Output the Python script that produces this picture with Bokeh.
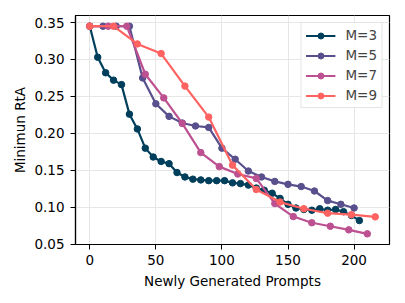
from bokeh.plotting import figure
from bokeh.models import Legend, LegendItem, FixedTicker, PrintfTickFormatter, Range1d
from bokeh.embed import file_html
from bokeh.resources import INLINE

x_m3 = [0, 6, 12, 18, 24, 30, 36, 42, 48, 54, 60, 66, 72, 78, 84, 90, 96, 102, 108, 114,
        120, 126, 132, 138, 144, 150, 156, 162, 168, 174, 180, 186, 192, 198, 204]
y_m3 = [0.345, 0.303, 0.282, 0.272, 0.266, 0.226, 0.206, 0.180, 0.168, 0.162, 0.159, 0.147,
        0.141, 0.138, 0.137, 0.136, 0.136, 0.136, 0.133, 0.132, 0.130, 0.126, 0.123, 0.119,
        0.112, 0.104, 0.099, 0.097, 0.096, 0.098, 0.096, 0.097, 0.094, 0.089, 0.082]

x_m5 = [0, 10, 20, 30, 40, 50, 60, 70, 80, 90, 100, 110, 120, 130, 140, 150, 160, 170, 180, 190, 200]
y_m5 = [0.345, 0.345, 0.345, 0.345, 0.275, 0.240, 0.223, 0.214, 0.210, 0.208, 0.180, 0.165,
        0.149, 0.141, 0.135, 0.131, 0.128, 0.122, 0.109, 0.104, 0.099]

x_m7 = [0, 14, 28, 42, 56, 70, 84, 98, 112, 126, 140, 154, 168, 182, 196, 210]
y_m7 = [0.345, 0.345, 0.345, 0.280, 0.248, 0.2135, 0.174, 0.155, 0.145, 0.139, 0.105, 0.0874,
        0.079, 0.0743, 0.0694, 0.064]

x_m9 = [0, 18, 36, 54, 72, 90, 108, 126, 144, 162, 180, 198, 216]
y_m9 = [0.345, 0.345, 0.321, 0.308, 0.264, 0.222, 0.157, 0.124, 0.107, 0.098, 0.092, 0.090, 0.087]

labels = ["M=3", "M=5", "M=7", "M=9"]
colors = ["#003f5c", "#58508d", "#bc5090", "#ff6361"]
x_ticks = [0, 50, 100, 150, 200]
y_ticks = [0.05, 0.10, 0.15, 0.20, 0.25, 0.30, 0.35]

FONT = "DejaVu Sans"
FS = "13.5px"

p = figure(width=397, height=295, output_backend="svg", toolbar_location=None,
           x_range=Range1d(-10.8, 226.8), y_range=Range1d(0.0496, 0.3595),
           min_border_left=75, min_border_right=8, min_border_top=15, min_border_bottom=51)

series = [(x_m3, y_m3), (x_m5, y_m5), (x_m7, y_m7), (x_m9, y_m9)]
items = []
for (xs, ys), lab, col in zip(series, labels, colors):
    r1 = p.line(xs, ys, line_color=col, line_width=2.2)
    r2 = p.scatter(xs, ys, size=6.5, fill_color=col, line_color=col)
    items.append(LegendItem(label=lab, renderers=[r1, r2]))

legend = Legend(items=items, location="top_right", margin=7, padding=4, spacing=4,
                glyph_width=30, glyph_height=15, label_height=15, label_standoff=10,
                label_text_font=FONT, label_text_font_size=FS,
                border_line_color="#cccccc", border_line_width=1,
                background_fill_color="white", background_fill_alpha=0.85)
p.add_layout(legend)

for ax in (p.xaxis, p.yaxis):
    ax.axis_line_color = "black"
    ax.axis_line_width = 1.2
    ax.major_tick_line_color = "black"
    ax.major_tick_line_width = 1
    ax.major_tick_out = 5
    ax.major_tick_in = 0
    ax.minor_tick_line_color = None
    ax.major_label_text_font = FONT
    ax.major_label_text_font_size = FS
    ax.major_label_text_color = "black"
    ax.axis_label_text_font = FONT
    ax.axis_label_text_font_size = FS
    ax.axis_label_text_font_style = "normal"
    ax.axis_label_text_color = "black"

p.xaxis.ticker = FixedTicker(ticks=x_ticks)
p.yaxis.ticker = FixedTicker(ticks=y_ticks)
p.yaxis.formatter = PrintfTickFormatter(format="%.2f")
p.xaxis.axis_label = "Newly Generated Prompts"
p.yaxis.axis_label = "Minimun RtA"
p.xaxis.major_label_standoff = 5
p.yaxis.major_label_standoff = 6
p.xaxis.axis_label_standoff = 5
p.yaxis.axis_label_standoff = 3

p.xgrid.ticker = FixedTicker(ticks=x_ticks)
p.ygrid.ticker = FixedTicker(ticks=y_ticks)
p.grid.grid_line_color = "#e6e6e6"
p.grid.grid_line_width = 1

p.outline_line_color = "black"
p.outline_line_width = 1.2
p.outline_line_alpha = 1
p.background_fill_color = "white"
p.border_fill_color = "white"

open("out.html", "w").write(file_html(p, INLINE))
